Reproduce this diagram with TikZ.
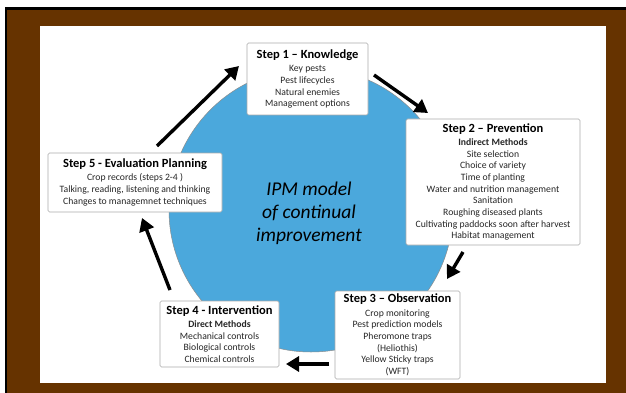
\documentclass[tikz,border=0pt]{standalone}
\usepackage{fontspec}
\setmainfont{Carlito}
\usetikzlibrary{arrows.meta}
\definecolor{framebrown}{RGB}{102,51,0}
\definecolor{cycleblue}{RGB}{75,168,220}
\definecolor{boxedge}{RGB}{170,170,170}
\tikzset{
  stepbox/.style={draw=boxedge, line width=0.6pt, fill=white, rounded corners=1.5pt,
    align=center, inner sep=2pt, text=black!85,
    font=\fontsize{9.7}{11.7}\selectfont},
  cyclearrow/.style={line width=3.4pt, -{Triangle[length=13pt,width=15pt]}},
}
\newcommand{\steptitle}[1]{{\fontsize{12.5}{14}\selectfont\bfseries\color{black}#1}\\[1.5pt]}
\begin{document}
\begin{tikzpicture}[x=1pt,y=-1pt]
  \useasboundingbox (0,0) rectangle (626,393);
  % frame
  \fill[white] (0,0) rectangle (626,393);
  \fill[black] (5,7) rectangle (626,393);
  \fill[framebrown] (7,10) rectangle (626,393);
  \fill[white] (40,26) rectangle (606,383);

  % central cycle disc
  \fill[cycleblue, draw=black!45, line width=0.5pt] (311,210) circle[radius=142];
  \node[font=\fontsize{19.5}{23}\selectfont\itshape, align=center] (core) at (309,213)
    {IPM model\\of continual\\improvement};

  % steps
  \node[stepbox, minimum width=121pt, minimum height=72pt] (s1) at (307.5,79)
    {\steptitle{Step 1 – Knowledge}Key pests\\Pest lifecycles\\Natural enemies\\Management options};
  \node[stepbox, minimum width=174pt, minimum height=126pt] (s2) at (493,182)
    {\steptitle{Step 2 – Prevention}\textbf{Indirect Methods}\\Site selection\\Choice of variety\\Time of planting\\Water and nutrition management\\Sanitation\\Roughing diseased plants\\Cultivating paddocks soon after harvest\\Habitat management};
  \node[stepbox, minimum width=125pt, minimum height=88pt] (s3) at (397.5,335)
    {\steptitle{Step 3 – Observation}Crop monitoring\\Pest prediction models\\Pheromone traps\\(Heliothis)\\Yellow Sticky traps\\(WFT)};
  \node[stepbox, minimum width=119pt, minimum height=66pt] (s4) at (219.5,334)
    {\steptitle{Step 4 - Intervention}\textbf{Direct Methods}\\Mechanical controls\\Biological controls\\Chemical controls};
  \node[stepbox, minimum width=174pt, minimum height=59pt] (s5) at (135,182.5)
    {\steptitle{Step 5 - Evaluation Planning}Crop records (steps 2-4 )\\Talking, reading, listening and thinking\\Changes to managemnet techniques};

  % arrow ends between the steps
  \coordinate (a1s) at (157,146); \coordinate (a1e) at (239,66);
  \coordinate (a2s) at (374,75);  \coordinate (a2e) at (428,113);
  \coordinate (a3s) at (463,252); \coordinate (a3e) at (447,279);
  \coordinate (a4s) at (329,364); \coordinate (a4e) at (286,364);
  \coordinate (a5s) at (170,290); \coordinate (a5e) at (142,218);

  \draw[cyclearrow] (a1s) -- (a1e);
  \draw[cyclearrow] (a2s) -- (a2e);
  \draw[cyclearrow] (a3s) -- (a3e);
  \draw[cyclearrow] (a4s) -- (a4e);
  \draw[cyclearrow] (a5s) -- (a5e);
\end{tikzpicture}
\end{document}
